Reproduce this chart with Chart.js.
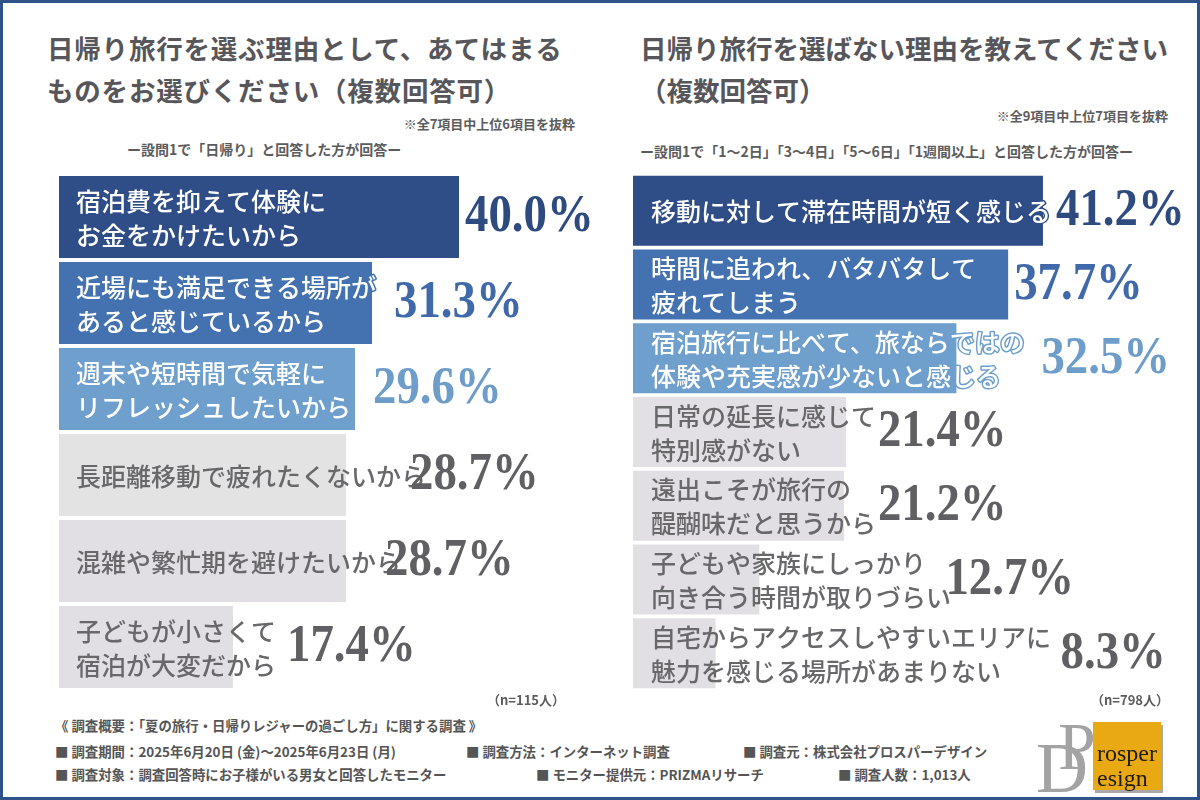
<!DOCTYPE html>
<html lang="ja">
<head>
<meta charset="utf-8">
<script src="https://cdn.jsdelivr.net/npm/chart.js@4"></script>
<style>
html, body { margin: 0; padding: 0; background: #fff; }
#page { position: relative; width: 1200px; height: 800px; overflow: hidden; background: #fff;
  font-family: "Noto Sans CJK JP", sans-serif; color: #555; }
#frame { position: absolute; left: 0; top: 0; width: 1200px; height: 800px; box-sizing: border-box;
  border: 3px solid #2f5388; pointer-events: none; }
canvas { position: absolute; }
.t { position: absolute; white-space: nowrap; line-height: 1; }
.title { font-weight: 700; font-size: 26.5px; color: #57565a; }
.note { font-weight: 700; font-size: 13px; color: #5c5c5c; }
.sub { font-weight: 700; font-size: 14px; color: #5c5c5c; }
.foot { font-weight: 700; font-size: 13.4px; color: #555; }
.logo { position: absolute; font-family: "Liberation Serif", serif; line-height: 1; white-space: nowrap; }
</style>
</head>
<body>
<div id="page">
  <div class="t title" style="left:47px;top:35px;letter-spacing:.8px">日帰り旅行を選ぶ理由として、あてはまる</div>
  <div class="t title" style="left:47px;top:77px;letter-spacing:.8px">ものをお選びください（複数回答可）</div>
  <div class="t note" style="right:625px;top:117px">※全7項目中上位6項目を抜粋</div>
  <div class="t sub" style="left:127px;top:142px">ー設問1で「日帰り」と回答した方が回答ー</div>

  <div class="t title" style="left:640px;top:35px">日帰り旅行を選ばない理由を教えてください</div>
  <div class="t title" style="left:640px;top:77px">（複数回答可）</div>
  <div class="t note" style="right:32px;top:109px">※全9項目中上位7項目を抜粋</div>
  <div class="t sub" style="left:640px;top:144px">ー設問1で「1〜2日」「3〜4日」「5〜6日」「1週間以上」と回答した方が回答ー</div>

  <canvas id="chartLeft" width="600" height="525" style="left:0;top:170px;width:600px;height:525px"></canvas>
  <canvas id="chartRight" width="600" height="525" style="left:600px;top:170px;width:600px;height:525px"></canvas>

  <div class="t note" style="left:487px;top:693px">（n=115人）</div>
  <div class="t note" style="left:1091px;top:693px">（n=798人）</div>

  <div class="t foot" style="left:55px;top:719px">《 調査概要：「夏の旅行・日帰りレジャーの過ごし方」に関する調査 》</div>
  <div class="t foot" style="left:55px;top:745px">■ 調査期間：2025年6月20日 (金)〜2025年6月23日 (月)</div>
  <div class="t foot" style="left:466px;top:745px">■ 調査方法：インターネット調査</div>
  <div class="t foot" style="left:743px;top:745px">■ 調査元：株式会社プロスパーデザイン</div>
  <div class="t foot" style="left:55px;top:768px">■ 調査対象：調査回答時にお子様がいる男女と回答したモニター</div>
  <div class="t foot" style="left:536px;top:768px">■ モニター提供元：PRIZMAリサーチ</div>
  <div class="t foot" style="left:838px;top:768px">■ 調査人数：1,013人</div>

  <div style="position:absolute;left:1095px;top:725px;width:68px;height:68px;background:#a9a9a9"></div>
  <div style="position:absolute;left:1093px;top:722px;width:68px;height:68px;background:#e9a913"></div>
  <div class="logo" style="left:1036px;top:732px;font-size:72px;color:#a3a3a3">D</div>
  <div class="logo" style="left:1058px;top:712px;font-size:68px;color:#a3a3a3">P</div>
  <div class="logo" style="left:1097px;top:741px;font-size:24px;color:#1f1a10">rosper</div>
  <div class="logo" style="left:1097px;top:766px;font-size:24px;color:#1f1a10">esign</div>

  <div id="frame"></div>
</div>

<script>
// 左のグラフ
const leftLabels = [
    ["宿泊費を抑えて体験に", "お金をかけたいから"],
    ["近場にも満足できる場所が", "あると感じているから"],
    ["週末や短時間で気軽に", "リフレッシュしたいから"],
    ["長距離移動で疲れたくないから"],
    ["混雑や繁忙期を避けたいから"],
    ["子どもが小さくて", "宿泊が大変だから"]
];
const leftValues = [40.0, 31.3, 29.6, 28.7, 28.7, 17.4];

// 右のグラフ
const rightLabels = [
    ["移動に対して滞在時間が短く感じる"],
    ["時間に追われ、バタバタして", "疲れてしまう"],
    ["宿泊旅行に比べて、旅ならではの", "体験や充実感が少ないと感じる"],
    ["日常の延長に感じて", "特別感がない"],
    ["遠出こそが旅行の", "醍醐味だと思うから"],
    ["子どもや家族にしっかり", "向き合う時間が取りづらい"],
    ["自宅からアクセスしやすいエリアに", "魅力を感じる場所があまりない"]
];
const rightValues = [41.2, 37.7, 32.5, 21.4, 21.2, 12.7, 8.3];

const leftColors = ["#2f4d87", "#4472b0", "#6f9fcd", "#e3e3e3", "#e2dfe4", "#e2dfe4"];
const rightColors = ["#2f4d87", "#4472b0", "#6f9fcd", "#e2e0e4", "#e2dfe4", "#e2dfe4", "#e2dfe4"];
const valueColors = ["#2e4b80", "#3f69a9", "#6e9dc9", "#606064", "#606064", "#606064", "#606064"];

// 数値ラベルは棒の先端からの距離で置く
const leftGaps = [6, 22, 18, 64, 39, 54];
const rightGaps = [13, 6, 85, 32, 34, 186, 345];

const barText = {
    id: 'barText',
    afterDatasetsDraw(chart, args, opts) {
        const ctx = chart.ctx;
        const meta = chart.getDatasetMeta(0);
        meta.data.forEach((bar, i) => {
            const lines = chart.data.labels[i];
            const dark = i < 3;
            ctx.save();
            ctx.font = '500 25px "Noto Sans CJK JP"';
            ctx.textAlign = 'left';
            ctx.textBaseline = 'middle';
            ctx.lineJoin = 'round';
            lines.forEach((line, n) => {
                const y = bar.y + (n - (lines.length - 1) / 2) * 34 + 1;
                if (dark) {
                    ctx.lineWidth = 3;
                    ctx.strokeStyle = chart.data.datasets[0].backgroundColor[i];
                    ctx.strokeText(line, opts.textX, y);
                    ctx.fillStyle = '#ffffff';
                } else {
                    ctx.fillStyle = '#68686b';
                }
                ctx.fillText(line, opts.textX, y);
            });
            ctx.restore();

            // パーセント表示
            ctx.save();
            ctx.font = 'bold 52px "Liberation Sans Narrow"';
            ctx.textAlign = 'left';
            ctx.textBaseline = 'middle';
            ctx.fillStyle = valueColors[i];
            ctx.translate(bar.x + opts.gaps[i], bar.y + 1);
            ctx.scale(0.9, 1);
            ctx.fillText(chart.data.datasets[0].data[i].toFixed(1) + '%', 0, 0);
            ctx.restore();
        });
    }
};

function makeChart(id, labels, values, colors, gaps, textX, padLeft, xMax, barPct) {
    return new Chart(document.getElementById(id).getContext('2d'), {
        type: 'bar',
        data: {
            labels: labels,
            datasets: [{
                data: values,
                backgroundColor: colors,
                categoryPercentage: 1,
                barPercentage: barPct
            }]
        },
        options: {
            indexAxis: 'y',
            responsive: false,
            animation: false,
            devicePixelRatio: 1,
            layout: { padding: { left: padLeft, right: 0, top: 4, bottom: 5 } },
            scales: {
                x: { display: false, min: 0, max: xMax },
                y: { display: false }
            },
            plugins: {
                legend: { display: false },
                tooltip: { enabled: false },
                barText: { gaps: gaps, textX: textX }
            }
        },
        plugins: [barText]
    });
}

window.onload = () => {
    makeChart('chartLeft', leftLabels, leftValues, leftColors, leftGaps, 76, 59, 54.1, 0.955);
    makeChart('chartRight', rightLabels, rightValues, rightColors, rightGaps, 51, 33, 56.98, 0.95);
};
</script>
</body>
</html>
